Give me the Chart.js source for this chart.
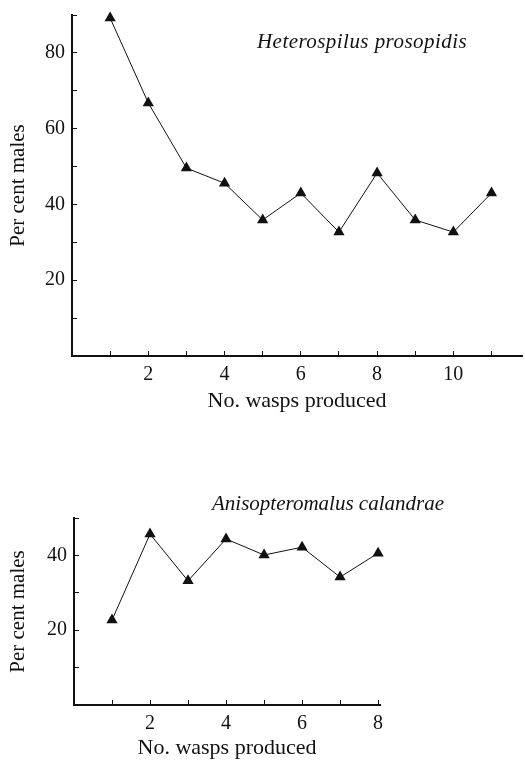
<html>
<head>
<meta http-equiv="Content-Type" content="text/html; charset=utf-8"/>
<title>Per cent males</title>
<script src="https://cdn.jsdelivr.net/npm/chart.js@4.4.0/dist/chart.umd.min.js"></script>
<style>
  body { margin: 0; background: #fff; width: 525px; height: 761px; position: relative; overflow: hidden; }
  canvas { position: absolute; left: 0; }
  #c1 { top: 0; }
  #c2 { top: 470px; }
  .especie { position: absolute; font-family: "Liberation Serif", "DejaVu Serif", serif; font-style: italic;
             font-size: 21px; line-height: 21px; color: #111; white-space: nowrap; }
</style>
<script>
// Heterospilus prosopidis
var wasps1 = [1, 2, 3, 4, 5, 6, 7, 8, 9, 10, 11]
var males1 = [89.2, 66.8, 49.6, 45.6, 35.9, 43, 32.7, 48.3, 35.9, 32.7, 43]
var xTicks1 = [0, 1, 2, 3, 4, 5, 6, 7, 8, 9, 10, 11]
var yTicks1 = [0, 10, 20, 30, 40, 50, 60, 70, 80, 90]

// Anisopteromalus calandrae
var wasps2 = [1, 2, 3, 4, 5, 6, 7, 8]
var males2 = [22.7, 45.7, 33.2, 44.4, 40.1, 42.2, 34.2, 40.6]
var xTicks2 = [0, 1, 2, 3, 4, 5, 6, 7, 8]
var yTicks2 = [0, 10, 20, 30, 40, 50]

var fuente = '"Liberation Serif", "DejaVu Serif", serif'

// sin margenes extra para las etiquetas de los extremos
var sinPadding = (s) => {
    s.paddingTop = 0
    s.paddingBottom = 0
    s.paddingLeft = 0
    s.paddingRight = 0
}

var grafica = (id, xs, ys, xTicks, yTicks, cfg) => {
    var puntos = xs.map((x, i) => ({x: x, y: ys[i]}))
    return new Chart(document.getElementById(id), {
        type: 'line',
        data: {
            datasets: [{
                data: puntos,
                borderColor: '#111',
                borderWidth: 1,
                backgroundColor: '#111',
                pointStyle: 'triangle',
                pointRadius: 6.5,
                pointBorderWidth: 0,
                tension: 0,
                clip: false
            }]
        },
        options: {
            responsive: false,
            animation: false,
            layout: { autoPadding: false, padding: { top: cfg.top, right: cfg.right, left: 0, bottom: 0 } },
            plugins: { legend: { display: false }, tooltip: { enabled: false } },
            scales: {
                x: {
                    type: 'linear',
                    min: 0,
                    max: cfg.xMax,
                    afterBuildTicks: (s) => { s.ticks = xTicks.map(v => ({value: v})) },
                    afterFit: (s) => { s.height = cfg.xHeight; sinPadding(s) },
                    border: { color: '#111', width: 2 },
                    grid: { drawOnChartArea: false, color: '#111', lineWidth: 1, tickLength: -5 },
                    ticks: {
                        color: '#111',
                        font: { family: fuente, size: 20 },
                        padding: 12,
                        maxRotation: 0,
                        autoSkip: false,
                        callback: (v) => (v > 0 && v % 2 === 0) ? v : ''
                    },
                    title: {
                        display: true,
                        text: 'No. wasps produced',
                        color: '#111',
                        font: { family: fuente, size: 22 },
                        padding: { top: 0, bottom: cfg.xTitlePad }
                    }
                },
                y: {
                    min: 0,
                    max: cfg.yMax,
                    afterBuildTicks: (s) => { s.ticks = yTicks.map(v => ({value: v})) },
                    afterFit: (s) => { s.width = cfg.yWidth; sinPadding(s) },
                    border: { color: '#111', width: 2 },
                    grid: { drawOnChartArea: false, color: '#111', lineWidth: 1, tickLength: -5 },
                    ticks: {
                        color: '#111',
                        font: { family: fuente, size: 20 },
                        padding: 12,
                        autoSkip: false,
                        callback: (v) => (v > 0 && v % 20 === 0) ? v : ''
                    },
                    title: {
                        display: true,
                        text: 'Per cent males',
                        color: '#111',
                        font: { family: fuente, size: 21 },
                        padding: { top: 6, bottom: 0 }
                    }
                }
            }
        }
    })
}

window.onload = () => {
    grafica('c1', wasps1, males1, xTicks1, yTicks1,
        { top: 15, right: 3, xMax: 11.8, yMax: 90, xHeight: 64, yWidth: 72, xTitlePad: 6 })
    grafica('c2', wasps2, males2, xTicks2, yTicks2,
        { top: 48, right: 145, xMax: 8.05, yMax: 50, xHeight: 56, yWidth: 74, xTitlePad: 0 })
}
</script>
</head>
<body>
    <canvas id="c1" width="525" height="420"></canvas>
    <canvas id="c2" width="525" height="291"></canvas>
    <div class="especie" style="left:257px; top:31px; letter-spacing:0.45px;">Heterospilus prosopidis</div>
    <div class="especie" style="left:212px; top:493px;">Anisopteromalus calandrae</div>
</body>
</html>
